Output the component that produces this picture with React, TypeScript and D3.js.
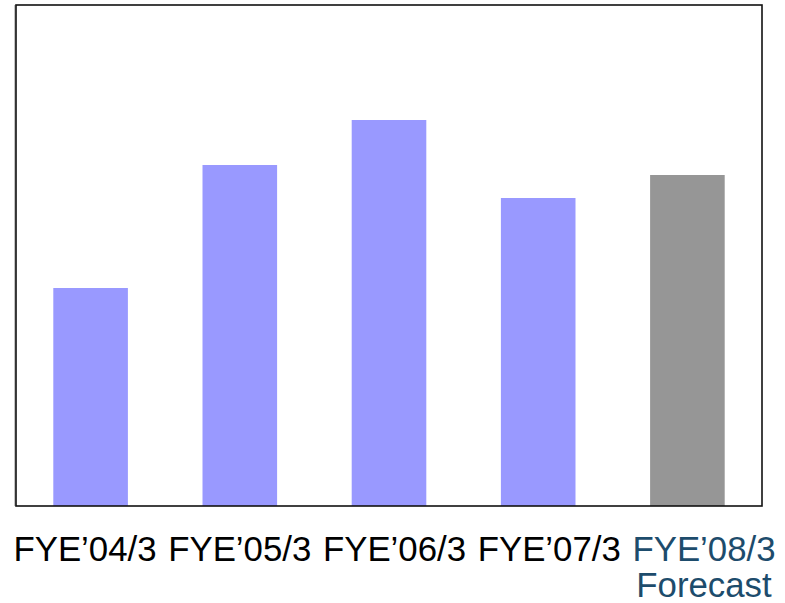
import React from 'react';
import * as d3 from 'd3';

// fiscal years and bar values (relative units)
const categories = ["FYE\u201904/3", "FYE\u201905/3", "FYE\u201906/3", "FYE\u201907/3", "FYE\u201908/3"];
const values = [218, 341, 386, 308, 331];
const forecastFlags = [false, false, false, false, true];
const yMax = 501;

const W = 785;
const H = 603;
const plot = { left: 16, right: 762, top: 5, bottom: 506 };

const App: React.FC = () => {
  const x = d3.scaleBand<string>()
    .domain(categories)
    .range([plot.left, plot.right])
    .paddingInner(0.5)
    .paddingOuter(0.25);

  const y = d3.scaleLinear().domain([0, yMax]).range([plot.bottom, plot.top]);

  // labels run wider than the bars in the original, so they get their own scale
  const labelX = d3.scalePoint<string>().domain(categories).range([85, 704]);

  const fontSize = 34.8;
  const font = 'Liberation Sans, Arial, sans-serif';
  const forecastColor = '#1D4C6C';

  return (
    <svg width={W} height={H} style={{ position: 'absolute', left: 0, top: 0 }} fontFamily={font}>
      <rect x={0} y={0} width={W} height={H} fill="#fff" />

      {/* bars */}
      {categories.map((c, i) => (
        <rect
          key={c}
          x={x(c)}
          y={y(values[i])}
          width={x.bandwidth()}
          height={y(0) - y(values[i])}
          fill={forecastFlags[i] ? '#969696' : '#9999FF'}
        />
      ))}

      {/* frame with a faint shadow on the left */}
      <line x1={plot.left - 1} x2={plot.left - 1} y1={plot.top} y2={plot.bottom} stroke="#888" strokeWidth={1} />
      <rect
        x={plot.left}
        y={plot.top}
        width={plot.right - plot.left}
        height={plot.bottom - plot.top}
        fill="none"
        stroke="#111"
        strokeWidth={1.6}
      />

      {/* category labels */}
      {categories.map((c, i) => (
        <text
          key={c}
          x={labelX(c)}
          y={561}
          fontSize={fontSize}
          textAnchor="middle"
          fill={forecastFlags[i] ? forecastColor : '#000'}
        >
          {c}
        </text>
      ))}
      <text x={704} y={597} fontSize={fontSize} fill={forecastColor} textAnchor="middle">Forecast</text>
    </svg>
  );
};

export default App;
